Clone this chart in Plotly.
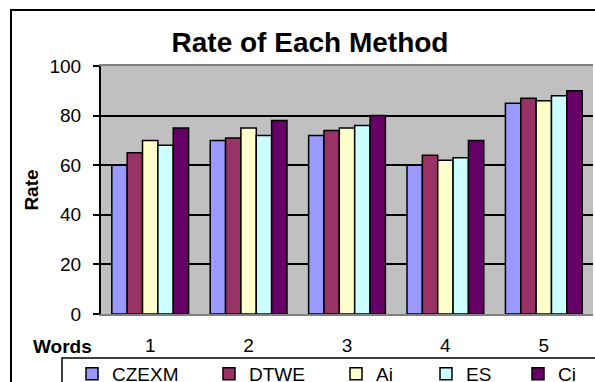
import plotly.graph_objects as go

categories = ["1", "2", "3", "4", "5"]
series_names = ["CZEXM", "DTWE", "Ai", "ES", "Ci"]
czexm = [60, 70, 72, 60, 85]
dtwe = [65, 71, 74, 64, 87]
ai = [70, 75, 75, 62, 86]
es = [68, 72, 76, 63, 88]
ci = [75, 78, 80, 70, 90]
colors = ["#9999FF", "#993366", "#FFFFCC", "#CCFFFF", "#660066"]
y_ticks = [0, 20, 40, 60, 80, 100]

W, H = 595, 382
L, R, T, B = 101, 2, 66, 68
pw, ph = W - L - R, H - T - B

def px(x):
    return (x - L) / pw

def py(y):
    return (H - B - y) / ph

fig = go.Figure()
legend_x = [72, 209, 336, 426, 518]
for i, (name, vals) in enumerate(zip(series_names, [czexm, dtwe, ai, es, ci])):
    lg = "legend" if i == 0 else f"legend{i+1}"
    fig.add_trace(go.Bar(
        x=categories, y=vals, name=name,
        marker=dict(color=colors[i], line=dict(color="black", width=1.5)),
        legend=lg,
    ))

font = "Arial, Liberation Sans, sans-serif"
layout = dict(
    width=W, height=H,
    margin=dict(l=L, r=R, t=T, b=B, autoexpand=False),
    paper_bgcolor="white",
    plot_bgcolor="#C0C0C0",
    barmode="group",
    bargap=0.22,
    bargroupgap=0,
    font=dict(family=font, size=19, color="black"),
    title=dict(text="<b>Rate of Each Method</b>", x=px(310), xref="paper", xanchor="center",
               y=1 - 42 / H, yanchor="middle", font=dict(size=28, family=font)),
    xaxis=dict(showgrid=False, showline=True, linecolor="#808080", linewidth=2, mirror=True,
               ticks="", ticklabelstandoff=13, tickfont=dict(size=19)),
    yaxis=dict(range=[0, 100], tickvals=y_ticks, showgrid=True, gridcolor="black", gridwidth=1.5,
               showline=True, linecolor="black", linewidth=2, ticks="outside", ticklen=6,
               tickwidth=1.5, tickcolor="black", zeroline=False, tickfont=dict(size=19),
               ticklabelstandoff=8,
               title=dict(text="<b>Rate</b>", font=dict(size=19), standoff=6)),
    showlegend=True,
)
for i in range(5):
    key = "legend" if i == 0 else f"legend{i+1}"
    layout[key] = dict(x=px(legend_x[i]), y=py(374), xanchor="left", yanchor="middle",
                       xref="paper", yref="paper", bgcolor="rgba(0,0,0,0)",
                       font=dict(size=19, family=font), orientation="h",
                       itemwidth=30, tracegroupgap=0)
fig.update_layout(**layout)

fig.add_annotation(text="<b>Words</b>", x=px(62), y=py(346), xref="paper", yref="paper",
                   showarrow=False, xanchor="center", yanchor="middle", font=dict(size=19))
# outer chart border
fig.add_shape(type="rect", xref="paper", yref="paper", x0=px(11), x1=px(602), y0=py(392), y1=py(10),
              line=dict(color="black", width=2), fillcolor="rgba(0,0,0,0)", layer="above")
# legend box
fig.add_shape(type="rect", xref="paper", yref="paper", x0=px(62), x1=px(600), y0=py(392), y1=py(358),
              line=dict(color="black", width=1.5), fillcolor="rgba(0,0,0,0)", layer="above")

fig.write_html("out.html", config={"displayModeBar": False},
               post_script="document.body.style.margin='0';document.body.style.padding='0';")
